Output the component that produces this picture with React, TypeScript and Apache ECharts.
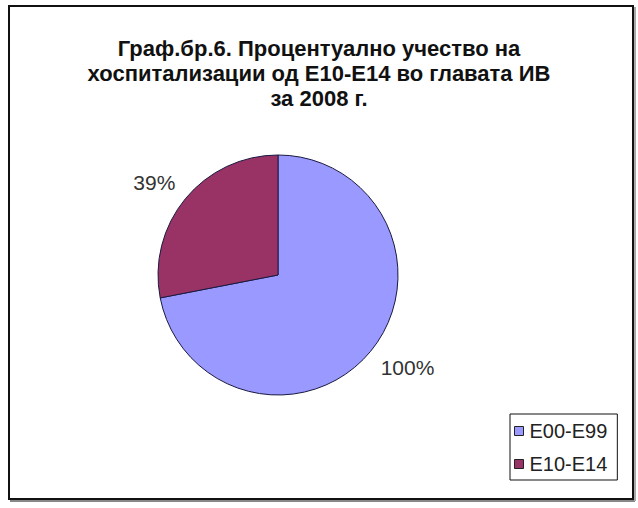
import React, { useEffect, useRef } from "react";
import * as echarts from "echarts";

const titleLines = [
  "Граф.бр.6. Процентуално учество на",
  "хоспитализации од Е10-Е14 во главата ИВ",
  "за 2008 г.",
];
const categories = ["E00-E99", "E10-E14"];
const values = [100, 39];
const labels = ["100%", "39%"];
const colors = ["#9999FF", "#993366"];

export default function App() {
  const ref = useRef<HTMLDivElement>(null);
  useEffect(() => {
    document.body.style.margin = "0";
    const chart = echarts.init(ref.current!, null, { renderer: "svg" });
    chart.setOption({
      animation: false,
      backgroundColor: "#ffffff",
      title: {
        text: titleLines.join("\n"),
        left: "center",
        top: 31,
        textStyle: {
          fontFamily: "'Liberation Sans', Arial, sans-serif",
          fontWeight: "bold",
          fontSize: 22,
          lineHeight: 25,
          color: "#111",
        },
      },
      graphic: [
        {
          type: "rect",
          shape: { x: 9, y: 6, width: 624, height: 493 },
          style: { fill: "none", stroke: "#111", lineWidth: 2 },
        },
        {
          type: "line",
          shape: { x1: 10, y1: 501, x2: 635, y2: 501 },
          style: { stroke: "#888", lineWidth: 2 },
        },
        {
          type: "line",
          shape: { x1: 635, y1: 7, x2: 635, y2: 501 },
          style: { stroke: "#aaa", lineWidth: 2 },
        },
      ],
      legend: {
        orient: "vertical",
        left: 510,
        top: 414,
        padding: [7, 10, 6, 4],
        borderColor: "#111",
        borderWidth: 1,
        itemGap: 13,
        itemWidth: 9,
        itemHeight: 9,
        icon: "rect",
        data: categories,
        textStyle: {
          fontFamily: "'Liberation Sans', Arial, sans-serif",
          fontSize: 20,
          color: "#222",
          padding: [0, 0, 0, 1],
        },
        itemStyle: { borderColor: "#222", borderWidth: 1 },
      },
      series: [
        {
          type: "pie",
          center: [278, 275],
          radius: 120,
          startAngle: 90,
          clockwise: true,
          data: categories.map((c, i) => ({
            name: c,
            value: values[i],
            itemStyle: { color: colors[i] },
            label: { formatter: labels[i] },
          })),
          itemStyle: { borderColor: "#1a1a40", borderWidth: 1 },
          label: {
            show: true,
            position: "outside",
            distanceToLabelLine: 0,
            fontFamily: "'Liberation Sans', Arial, sans-serif",
            fontSize: 21,
            color: "#333",
          },
          labelLine: { show: false, length: 26, length2: -10 },
          emphasis: { disabled: true },
        },
      ],
    });
    return () => chart.dispose();
  }, []);
  return <div ref={ref} style={{ width: 638, height: 508, position: "absolute", left: 0, top: 0 }} />;
}
